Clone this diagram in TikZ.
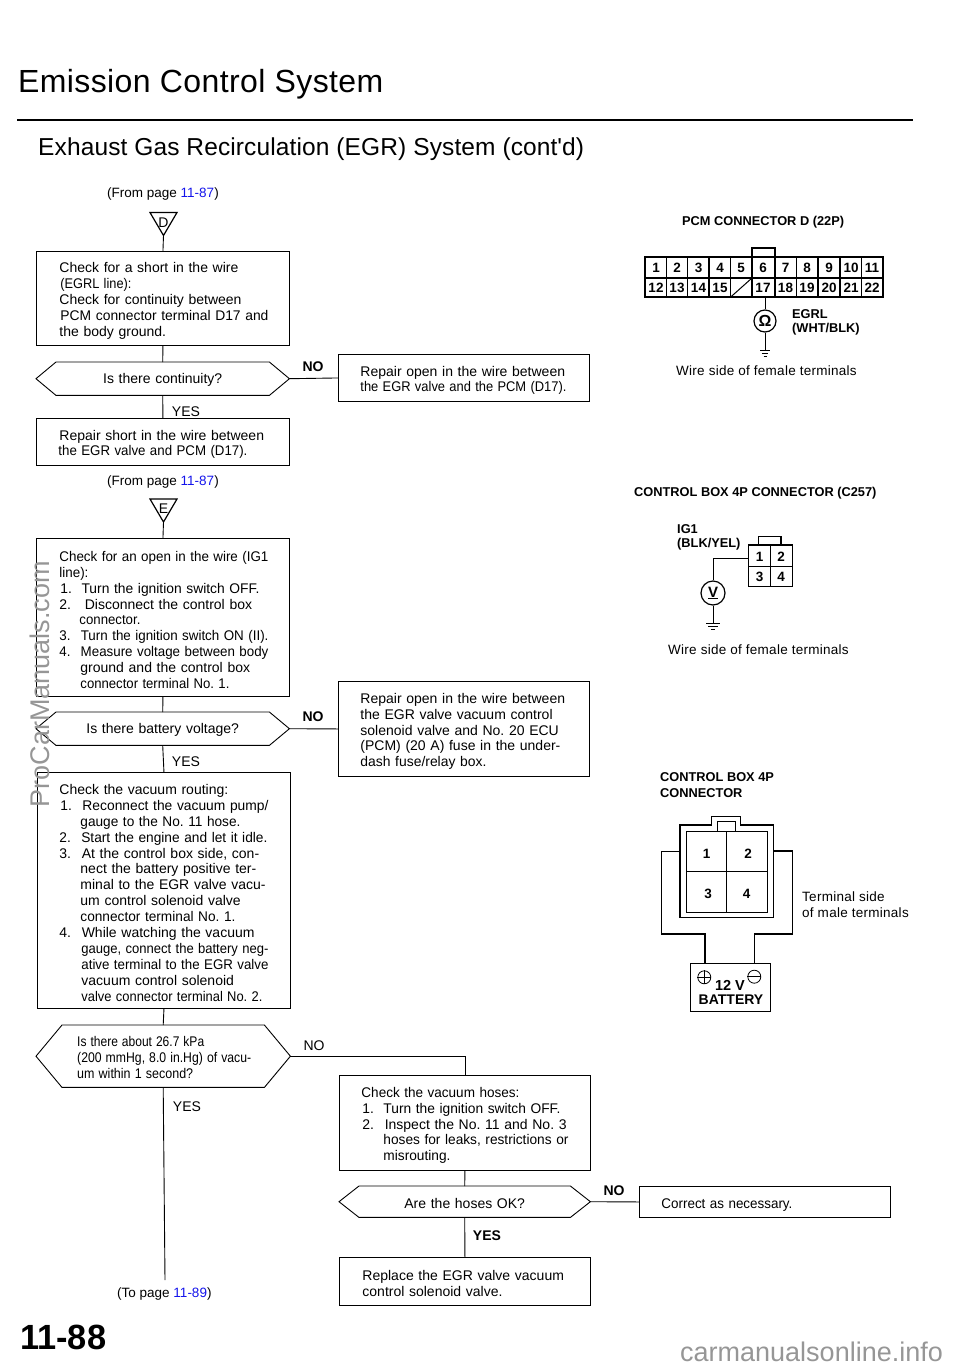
\documentclass[tikz,border=0pt]{standalone}
\usepackage{fontspec}
\usepackage{graphicx}
\setmainfont{Liberation Sans}
\newfontfamily\plainfam{Liberation Sans}
\frenchspacing
\definecolor{linkblue}{RGB}{20,20,235}
\definecolor{markgray}{RGB}{150,150,150}
\newlength\fitlen
\newcommand\fitw[2]{\settowidth\fitlen{#2}\ifdim\fitlen>#1pt\relax\resizebox{#1pt}{\height}{#2}\else\makebox[#1pt][s]{#2}\fi}
\newcommand\Ln[3]{\hspace*{#1pt}\fitw{#2}{#3}}
\newcommand\lnk[1]{\textcolor{linkblue}{#1}}
\newcommand\hexpath[2]{\draw[flowline] (#1.west)--([xshift=#2pt]#1.north west)--([xshift=-#2pt]#1.north east)--(#1.east)--([xshift=-#2pt]#1.south east)--([xshift=#2pt]#1.south west)--cycle;}
\newcommand\trimark[4]{%
  \draw[flowline,line width=1.2pt] (#2-13.5,#3)--(#2+13.5,#3)--(#2,#3+23)--cycle;
  \node[font=\fontsize{14}{16}\selectfont,inner sep=0pt] (#1) at (#2,#3+10) {#4};
  \coordinate (#1-tip) at (#2,#3+23);}
\newcommand\groundsym[3]{%
  \draw[wire] (#1-#3,#2)--(#1+#3,#2) (#1-#3*0.65,#2+3.2)--(#1+#3*0.65,#2+3.2) (#1-#3*0.3,#2+6.4)--(#1+#3*0.3,#2+6.4);}
\tikzset{
  x=1pt,y=-1pt,
  flowline/.style={draw=black,line width=0.9pt},
  wire/.style={draw=black,line width=1pt},
  flowbox/.style={draw=black,line width=0.9pt,rectangle,anchor=north west,inner sep=0pt,align=left,
    font=\fontsize{14}{15.9}\selectfont,execute at begin node={\leavevmode\rule{0pt}{15pt}}},
  hexnode/.style={rectangle,anchor=north west,inner sep=0pt,align=left,
    font=\fontsize{14}{15.9}\selectfont,execute at begin node={\leavevmode\rule{0pt}{13pt}}},
  free/.style={inner sep=0pt,yshift=-2pt,font=\fontsize{13.5}{16}\selectfont},
  yn/.style={inner sep=0pt,yshift=-1pt,font=\fontsize{14}{16}\selectfont},
  ynb/.style={inner sep=0pt,yshift=-1pt,font=\fontsize{14}{16}\bfseries\selectfont},
  figt/.style={inner sep=0pt,yshift=-1.5pt,font=\fontsize{12.8}{16}\bfseries\selectfont,anchor=west},
  figc/.style={inner sep=0pt,yshift=-1.5pt,font=\fontsize{13.5}{16}\selectfont,anchor=west},
  pinn/.style={inner sep=0pt,font=\fontsize{13.5}{16}\bfseries\selectfont},
  meter/.style={circle,draw=black,line width=1.2pt,inner sep=0pt,minimum size=22pt},
}
\begin{document}
\begin{tikzpicture}
\useasboundingbox (0,0) rectangle (960,1366);
% header
\node[inner sep=0pt,anchor=west,font=\fontsize{32}{36}\selectfont] (title) at (18,84) {\addfontfeature{LetterSpace=1.2}Emission Control System};
\draw[line width=2pt] (17,120) -- (913,120);
\node[inner sep=0pt,anchor=west,font=\fontsize{24.5}{30}\selectfont] (subtitle) at (38,149) {\addfontfeature{LetterSpace=0.5}Exhaust Gas Recirculation (EGR) System (cont{\plainfam '}d)};

% left column top
\node[free,anchor=west] (from1) at (107,192) {(From page \lnk{11-87})};
\trimark{mD}{163.5}{212.5}{D}
\node[flowbox,text width=253pt,minimum height=94pt] (b1) at (36,251) {%
\Ln{23}{209}{Check for a short in the wire}\\
\Ln{24}{71}{(EGRL line):}\\
\Ln{23}{209}{Check for continuity between}\\
\Ln{24}{208}{PCM connector terminal D17 and}\\
\Ln{23}{107}{the body ground.}};
\node[hexnode,text width=253pt,minimum height=33pt,align=center] (h1) at (36,362) {Is there continuity?};
\hexpath{h1}{20}
\node[yn] (y1) at (186,411) {YES};
\node[ynb] (n1) at (313,366) {NO};
\node[flowbox,text width=253pt,minimum height=47pt] (b2) at (36,418) {%
\Ln{23}{208}{Repair short in the wire between}\\
\Ln{22}{189}{the EGR valve and PCM (D17).}};
\node[flowbox,text width=251pt,minimum height=47pt] (r1) at (338,354) {%
\Ln{22}{207}{Repair open in the wire between}\\
\Ln{22}{206}{the EGR valve and the PCM (D17).}};
\draw[flowline] (mD-tip) -- (b1.north);
\draw[flowline] (b1.south) -- (h1.north);
\draw[flowline] (h1.south) -- (b2.north);
\draw[flowline] (h1.east) -- (r1.west);

% second block
\node[free,anchor=west] (from2) at (107,480) {(From page \lnk{11-87})};
\trimark{mE}{163.5}{499}{E}
\node[flowbox,text width=253pt,minimum height=158pt,font=\fontsize{14}{15.87}\selectfont] (b3) at (36,538) {%
\Ln{23}{209}{Check for an open in the wire (IG1}\\
\Ln{23}{29}{line):}\\
\Ln{24}{199}{1.\hspace{5pt} Turn the ignition switch OFF.}\\
\Ln{23}{209}{2.\hspace{9pt} Disconnect the control box}\\
\Ln{43}{61}{connector.}\\
\Ln{23}{209}{3.\hspace{6pt} Turn the ignition switch ON (II).}\\
\Ln{23}{209}{4.\hspace{6pt} Measure voltage between body}\\
\Ln{44}{188}{ground and the control box}\\
\Ln{44}{149}{connector terminal No. 1.}};
\node[hexnode,text width=253pt,minimum height=33pt,align=center] (h2) at (36,712) {Is there battery voltage?};
\hexpath{h2}{20}
\node[yn] (y2) at (186,761) {YES};
\node[ynb] (n2) at (313,716) {NO};
\node[flowbox,text width=251pt,minimum height=95pt] (r2) at (338,681) {%
\Ln{22}{207}{Repair open in the wire between}\\
\Ln{22}{208}{the EGR valve vacuum control}\\
\Ln{22}{208}{solenoid valve and No. 20 ECU}\\
\Ln{22}{207}{(PCM) (20 A) fuse in the under-}\\
\Ln{22}{126}{dash fuse/relay box.}};
\node[flowbox,text width=253pt,minimum height=236pt,font=\fontsize{14}{15.93}\selectfont,execute at begin node={\leavevmode\rule{0pt}{14pt}}] (b4) at (37,772) {%
\Ln{22}{169}{Check the vacuum routing:}\\
\Ln{23}{208}{1.\hspace{6pt} Reconnect the vacuum pump/}\\
\Ln{43}{160}{gauge to the No. 11 hose.}\\
\Ln{22}{208}{2.\hspace{6pt} Start the engine and let it idle.}\\
\Ln{22}{209}{3.\hspace{6pt} At the control box side, con-}\\
\Ln{43}{188}{nect the battery positive ter-}\\
\Ln{43}{188}{minal to the EGR valve vacu-}\\
\Ln{43}{189}{um control solenoid valve}\\
\Ln{43}{155}{connector terminal No. 1.}\\
\Ln{22}{209}{4.\hspace{6pt} While watching the vacuum}\\
\Ln{44}{187}{gauge, connect the battery neg-}\\
\Ln{44}{187}{ative terminal to the EGR valve}\\
\Ln{44}{188}{vacuum control solenoid}\\
\Ln{44}{181}{valve connector terminal No. 2.}};
\draw[flowline] (mE-tip) -- (b3.north);
\draw[flowline] (b3.south) -- (h2.north);
\draw[flowline] (h2.south) -- (b4.north);
\draw[flowline] (h2.east) -- (r2.west);

% third block
\node[hexnode,text width=254pt,minimum height=62pt] (h3) at (36,1025) {%
\Ln{41}{127}{Is there about 26.7 kPa}\\
\Ln{41}{174}{(200 mmHg, 8.0 in.Hg) of vacu-}\\
\Ln{41}{116}{um within 1 second?}};
\hexpath{h3}{26}
\node[yn] (n3) at (314,1045) {NO};
\node[yn] (y3) at (187,1106) {YES};
\node[free,anchor=west] (to) at (117,1292) {(To page \lnk{11-89})};
\coordinate (toend) at (165,1280);
\node[flowbox,text width=251pt,minimum height=95pt] (b5) at (339,1075) {%
\Ln{22}{158}{Check the vacuum hoses:}\\
\Ln{23}{198}{1.\hspace{5pt} Turn the ignition switch OFF.}\\
\Ln{23}{206}{2.\hspace{6pt} Inspect the No. 11 and No. 3}\\
\Ln{44}{185}{hoses for leaks, restrictions or}\\
\Ln{44}{67}{misrouting.}};
\node[hexnode,text width=251pt,minimum height=31pt,align=center] (h4) at (339,1186) {Are the hoses OK?};
\hexpath{h4}{20}
\node[ynb] (n4) at (614,1190) {NO};
\node[ynb] (y4) at (487,1235) {YES};
\node[flowbox,text width=251pt,minimum height=31pt] (b6) at (639,1186) {\Ln{22}{131}{Correct as necessary.}};
\node[flowbox,text width=251pt,minimum height=48pt] (b7) at (339,1257) {%
\Ln{23}{206}{Replace the EGR valve vacuum}\\
\Ln{23}{140}{control solenoid valve.}};
\draw[flowline] (b4.south) -- (h3.north);
\draw[flowline] (h3.south) -- (toend);
\draw[flowline] (h3.east) -| (b5.north);
\draw[flowline] (b5.south) -- (h4.north);
\draw[flowline] (h4.south) -- (b7.north);
\draw[flowline] (h4.east) -- (b6.west);

% PCM connector
\node[figt] (t1) at (682,221) {PCM CONNECTOR D (22P)};
\draw[wire,line width=1.6pt] (645,257) rectangle (883,297);
\draw[wire,line width=1.4pt] (645,278) -- (883,278);
\draw[wire,line width=1.4pt] (752,257) -- (752,248) -- (775,248) -- (775,257);
\foreach \xx in {666.7,687.7,709,730.7,752,775,796.7,818,840,861.7} \draw[wire,line width=1.3pt] (\xx,257) -- (\xx,297);
\draw[wire] (730.7,297) -- (752,278);
\foreach \xx/\tt in {656/1,677/2,698.5/3,720/4,741/5,763/6,785.5/7,807/8,829/9,851/10,872/11}
  \node[pinn] at (\xx,268) {\tt};
\foreach \xx/\tt in {656/12,677/13,698.5/14,720/15,763/17,785.5/18,807/19,829/20,851/21,872/22}
  \node[pinn] at (\xx,287.5) {\tt};
\node[meter,font=\fontsize{16}{16}\bfseries\selectfont] (ohm) at (765,321) {Ω};
\coordinate (pcmpin) at (765,297);
\coordinate (g1) at (765,350);
\draw[wire] (pcmpin) -- (ohm.north);
\draw[wire] (ohm.south) -- (g1);
\groundsym{765}{350}{5}
\node[figt] (egrl) at (792,313) {EGRL};
\node[figt] (wht) at (792,328) {(WHT/BLK)};
\node[figc] (c1) at (676,369.5) {\addfontfeature{LetterSpace=2}Wire side of female terminals};

% control box C257
\node[figt] (t2) at (634,491.5) {CONTROL BOX 4P CONNECTOR (C257)};
\node[figt] (ig) at (677,527.5) {IG1};
\node[figt] (blk) at (677,543) {(BLK/YEL)};
\draw[wire,line width=1.4pt] (748.3,545) rectangle (792.7,586.7);
\draw[wire,line width=1.2pt] (748.3,566.7) -- (792.7,566.7) (770.7,545) -- (770.7,586.7);
\draw[wire,line width=1.4pt] (758.3,545) -- (758.3,536.7) -- (781,536.7) -- (781,545);
\node[pinn] at (759.5,556.5) {1};
\node[pinn] at (781,556.5) {2};
\node[pinn] at (759.5,576.5) {3};
\node[pinn] at (781,576.5) {4};
\coordinate (ctlpin) at (748.3,558);
\node[meter,minimum size=24pt,font=\fontsize{15}{16}\bfseries\selectfont] (volt) at (713,593) {\underline{V}};
\coordinate (g2) at (713,623);
\draw[wire] (ctlpin) -| (volt.north);
\draw[wire] (volt.south) -- (g2);
\groundsym{713}{623}{7}
\node[figc] (c2) at (668,648.5) {\addfontfeature{LetterSpace=2}Wire side of female terminals};

% male connector
\node[figt] (t3a) at (660,776) {CONTROL BOX 4P};
\node[figt] (t3b) at (660,792) {CONNECTOR};
\draw[wire,line width=1.4pt] (680,825) -- (711.7,825) -- (711.7,816.7) -- (740.7,816.7) -- (740.7,825) -- (773.3,825) -- (773.3,917.7) -- (680,917.7) -- cycle;
\draw[wire] (686,831) rectangle (767.3,912.7);
\draw[wire,line width=0.8pt] (717.3,831) -- (717.3,821) -- (735.7,821) -- (735.7,831);
\draw[wire,line width=0.8pt] (686,871.7) -- (767.3,871.7) (726.7,831) -- (726.7,912.7);
\node[pinn] at (706.7,854) {1};
\node[pinn] at (748,854) {2};
\node[pinn] at (708,894) {3};
\node[pinn] at (746.7,894) {4};
\node[draw=black,line width=1.2pt,rectangle,minimum width=80pt,minimum height=48pt,inner sep=0pt,anchor=north west] (batt) at (690,963) {};
\node[inner sep=0pt,font=\fontsize{14.5}{16}\bfseries\selectfont] (bv) at (730,985) {12 V};
\node[inner sep=0pt,font=\fontsize{14}{16}\bfseries\selectfont] (bb) at (731,1000) {BATTERY};
\node[circle,draw=black,line width=0.8pt,minimum size=13pt,inner sep=0pt] (plus) at (704.3,977.3) {};
\node[circle,draw=black,line width=0.8pt,minimum size=13pt,inner sep=0pt] (minus) at (754.3,976.7) {};
\draw[wire,line width=0.8pt] (plus.west)--(plus.east) (plus.north)--(plus.south) (minus.west)--(minus.east);
\coordinate (lpin) at (680,851.7);
\coordinate (rpin) at (773.3,851);
\draw[wire,line width=1.2pt] (lpin) -- (661.7,851.7) -- (661.7,934) -- (705,934) -- (705,963);
\draw[wire,line width=1.2pt] (rpin) -- (792.7,851) -- (792.7,934) -- (754.3,934) -- (754.3,963);
\node[figc] (c3a) at (802,895.5) {\addfontfeature{LetterSpace=2}Terminal side};
\node[figc] (c3b) at (802,911) {\addfontfeature{LetterSpace=2}of male terminals};

% page furniture
\node[inner sep=0pt,anchor=west,font=\fontsize{35}{40}\bfseries\selectfont] (pageno) at (20,1337) {\resizebox{86pt}{\height}{11-88}};
\node[inner sep=0pt,rotate=90,text=markgray,font=\fontsize{27}{32}\selectfont] (wm) at (40,684) {ProCarManuals.com};
\node[inner sep=0pt,anchor=west,text=markgray,font=\fontsize{27}{28}\selectfont] (wm2) at (680,1352) {carmanualsonline.info};
\end{tikzpicture}
\end{document}
